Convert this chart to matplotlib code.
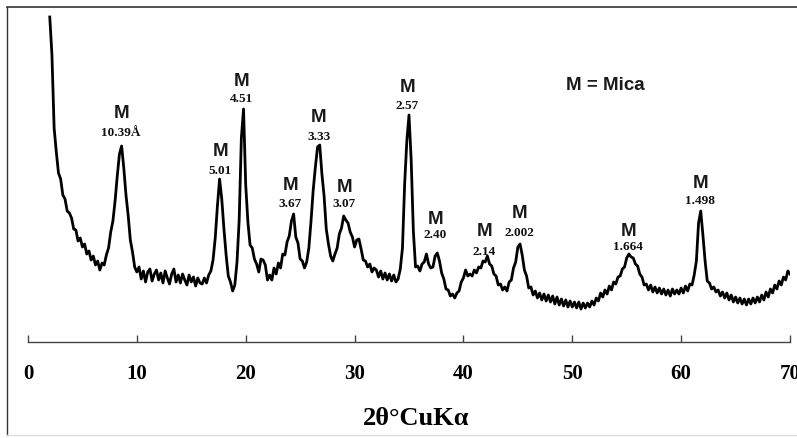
import numpy as np
import matplotlib
matplotlib.use("Agg")
import matplotlib.pyplot as plt
from matplotlib.lines import Line2D

# XRD trace (intensity in arbitrary units, 0.2 deg steps from 2 to 70)
intensity = [
    325, 287, 214, 190, 169, 163, 147, 143, 131, 129,
    124, 113, 112, 101, 104, 95, 98, 88, 91, 82,
    86, 77, 81, 72, 79, 77, 87, 94, 110, 121,
    141, 166, 188, 196, 174, 147, 127, 102, 90, 75,
    70, 75, 63, 71, 60, 70, 73, 61, 68, 72,
    62, 69, 59, 71, 64, 58, 68, 73, 60, 67,
    59, 68, 62, 57, 67, 60, 65, 56, 64, 59,
    58, 64, 59, 67, 71, 82, 104, 136, 163, 143,
    113, 87, 66, 60, 51, 57, 80, 122, 204, 233,
    157, 120, 97, 94, 83, 78, 70, 83, 82, 77,
    62, 67, 62, 74, 68, 79, 74, 88, 87, 100,
    106, 121, 128, 105, 99, 83, 81, 74, 80, 94,
    121, 152, 175, 195, 197, 168, 146, 113, 98, 86,
    81, 88, 94, 108, 114, 126, 122, 119, 110, 105,
    95, 102, 103, 93, 82, 81, 75, 78, 70, 74,
    72, 65, 71, 63, 69, 62, 68, 61, 67, 60,
    63, 73, 94, 158, 201, 227, 182, 111, 75, 76,
    71, 78, 80, 88, 78, 74, 75, 86, 89, 81,
    69, 63, 53, 52, 46, 48, 44, 49, 51, 60,
    64, 72, 66, 68, 66, 72, 69, 75, 74, 81,
    80, 86, 78, 76, 68, 66, 57, 58, 52, 55,
    51, 60, 62, 74, 80, 95, 98, 87, 72, 66,
    54, 55, 47, 51, 44, 49, 42, 48, 41, 47,
    40, 46, 38, 45, 37, 43, 36, 42, 35, 41,
    35, 40, 34, 40, 33, 39, 34, 39, 35, 41,
    37, 44, 41, 49, 45, 52, 48, 56, 52, 60,
    58, 65, 66, 73, 75, 84, 88, 85, 84, 78,
    76, 68, 65, 57, 58, 52, 57, 50, 55, 49,
    54, 48, 53, 47, 52, 46, 53, 48, 52, 48,
    54, 49, 56, 51, 58, 57, 67, 81, 119, 131,
    107, 81, 61, 59, 53, 55, 50, 52, 46, 50,
    44, 49, 42, 47, 40, 45, 39, 44, 38, 43,
    37, 43, 38, 44, 39, 45, 40, 47, 42, 50,
    45, 53, 49, 57, 53, 61, 57, 65, 62, 71,
    68,
]
two_theta = np.linspace(2.0, 70.0, len(intensity))

# mica peaks and their d-spacings
peak_2theta = [8.55, 17.65, 19.62, 24.08, 26.7, 29.04, 34.83, 37.4, 41.9, 45.13, 55.15, 61.76]
d_labels = ["10.39Å", "5.01", "4.51", "3.67", "3.33", "3.07", "2.57", "2.40", "2.14", "2.002", "1.664", "1.498"]
m_y = [230, 191, 261, 158, 225, 156, 255, 124, 111, 130, 111, 160]
d_y = [210, 172, 244, 139, 206, 139, 237, 108, 91, 110, 96, 142]

xticks = [0, 10, 20, 30, 40, 50, 60, 70]

W, H = 797, 439
fig = plt.figure(figsize=(W / 100, H / 100), dpi=100)
ax = fig.add_axes([28 / W, (H - 343) / H, (790 - 28) / W, 333 / H])

ax.plot(two_theta, intensity, color="black", lw=2.0)

for x, lab, ym, yd in zip(peak_2theta, d_labels, m_y, d_y):
    ax.text(x, ym, "M", ha="center", va="center", fontsize=13.5,
            fontweight="bold", family="Liberation Sans", color="#1a1a1a")
    ax.text(x, yd, lab, ha="center", va="center", fontsize=9.5,
            fontweight="bold", family="Liberation Serif", color="#111111")

ax.text(53.0, 258, "M = Mica", ha="center", va="center", fontsize=13.5,
        fontweight="bold", family="Liberation Sans", color="#1a1a1a")

ax.set_xlim(0, 70)
ax.set_ylim(0, 333)
ax.set_xticks(xticks)
ax.set_yticks([])
for s in ["left", "right", "top"]:
    ax.spines[s].set_visible(False)
ax.spines["bottom"].set_color("#444444")
ax.spines["bottom"].set_linewidth(1.0)
ax.tick_params(axis="x", direction="in", length=5, width=1, color="#444444", pad=15)
for t in ax.get_xticklabels():
    t.set_family("Liberation Serif")
    t.set_fontweight("bold")
    t.set_fontsize(15)

ax.set_xlabel("2θ°CuKα", family="Liberation Serif", fontweight="bold", fontsize=19)
ax.xaxis.set_label_coords((416 - 28) / 762, (343 - 407) / 333)

# thin frame round the picture
fig.add_artist(Line2D([7 / W, 1], [1 - 8 / H, 1 - 8 / H], color="#333333", lw=1.2))
fig.add_artist(Line2D([7 / W, 7 / W], [1 - 8 / H, 1 - 436 / H], color="#333333", lw=1.0))
fig.add_artist(Line2D([7 / W, 1], [1 - 436 / H, 1 - 436 / H], color="#dddddd", lw=1.0))

fig.savefig("out.png", dpi=100)
